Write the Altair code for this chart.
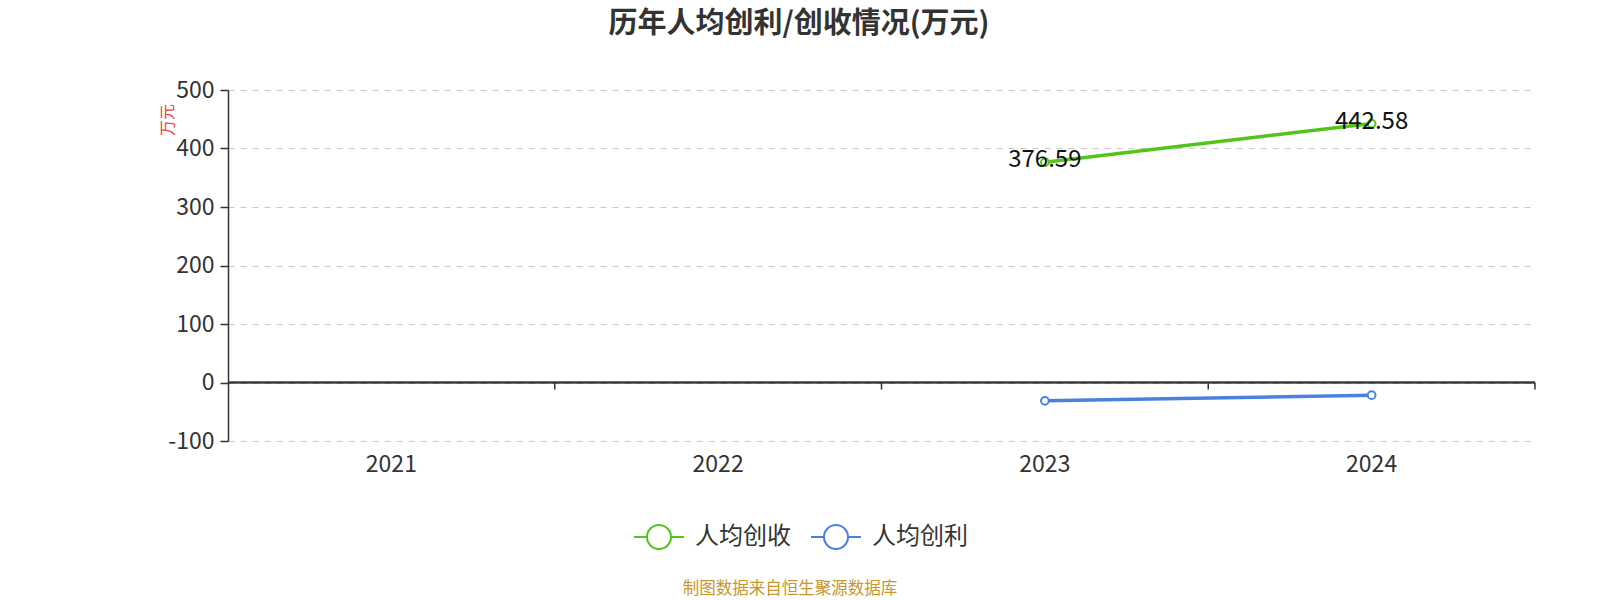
import altair as alt
import pandas as pd

years = ["2021", "2022", "2023", "2024"]
revenue_per_head = [None, None, 376.59, 442.58]   # 人均创收
profit_per_head = [None, None, -31.4, -21.6]      # 人均创利

series_names = ["人均创收", "人均创利"]
series_colors = ["#52c41a", "#4a80e0"]

FONT = "Noto Sans CJK SC"
W, H = 1307, 351

rows = []
for name, vals in zip(series_names, [revenue_per_head, profit_per_head]):
    for yr, v in zip(years, vals):
        if v is not None:
            rows.append({"year": yr, "value": v, "series": name})
df = pd.DataFrame(rows)
rev_df = df[df.series == "人均创收"]
years_df = pd.DataFrame({"year": years})

x_scale = alt.Scale(domain=years, paddingInner=0, paddingOuter=0)
y_scale = alt.Scale(domain=[-100, 500], nice=False, zero=False)
color_scale = alt.Scale(domain=series_names, range=series_colors)

legend_symbol = "M-1,0H-0.48A0.48,0.48 0 1,1 0.48,0A0.48,0.48 0 1,1 -0.48,0M0.48,0H1"

x_enc = alt.X("year:N", scale=x_scale, sort=years,
              axis=alt.Axis(title=None, domain=False, ticks=False, labelAngle=0,
                            labelFontSize=23, labelColor="#333", labelFont=FONT,
                            labelPadding=12, grid=False))
y_enc = alt.Y("value:Q", scale=y_scale,
              axis=alt.Axis(title=None, values=[-100, 0, 100, 200, 300, 400, 500],
                            labelExpr="datum.value < 0 ? '-' + abs(datum.value) : datum.label",
                            domainColor="#333", domainWidth=1.5, tickColor="#333",
                            tickSize=8, tickWidth=1.5, labelFontSize=23,
                            labelColor="#333", labelFont=FONT, labelPadding=6,
                            grid=True, gridDash=[6, 6], gridColor="#c8c8c8"))

lines = alt.Chart(df).mark_line(strokeWidth=3.5).encode(
    x=x_enc,
    y=y_enc,
    color=alt.Color("series:N", scale=color_scale, sort=series_names,
                    legend=alt.Legend(title=None, orient="none", direction="horizontal",
                                      legendX=405, legendY=421,
                                      symbolType=legend_symbol, symbolSize=2500,
                                      symbolStrokeWidth=2, symbolFillColor="white",
                                      labelFontSize=24, labelColor="#333", labelFont=FONT,
                                      labelOffset=10, columnPadding=16)),
)

points = alt.Chart(df).mark_point(shape="circle", filled=True, fill="white",
                                  size=60, strokeWidth=2, opacity=1).encode(
    x=alt.X("year:N", scale=x_scale, sort=years),
    y=alt.Y("value:Q", scale=y_scale),
    stroke=alt.Stroke("series:N", scale=color_scale, legend=None),
)

labels = alt.Chart(rev_df).mark_text(fontSize=24, font=FONT, color="#111",
                                     align="center", baseline="middle", dy=-2).encode(
    x=alt.X("year:N", scale=x_scale, sort=years),
    y=alt.Y("value:Q", scale=y_scale),
    text=alt.Text("value:Q", format=".2f"),
)

# horizontal axis line at zero with tick marks on category boundaries
zero_line = alt.Chart(years_df).mark_rule(color="#333", strokeWidth=1.5).encode(
    x=alt.value(0), x2=alt.value(W), y=alt.Y("z:Q", scale=y_scale),
).transform_calculate(z="0")

zero_ticks = alt.Chart(years_df).mark_rule(color="#333", strokeWidth=1.5, y2Offset=7).encode(
    x=alt.X("year:N", scale=x_scale, sort=years, bandPosition=1),
    y=alt.Y("z:Q", scale=y_scale),
    y2="z:Q",
).transform_calculate(z="0")

title = alt.Chart(years_df.head(1)).mark_text(
    text="历年人均创利/创收情况(万元)", fontSize=29, fontWeight="bold", font=FONT,
    color="#333", align="center", baseline="middle",
).encode(x=alt.value(571), y=alt.value(-66))

y_title = alt.Chart(years_df.head(1)).mark_text(
    text="万元", fontSize=16, font=FONT, color="#f03c3c", angle=270,
    align="center", baseline="middle",
).encode(x=alt.value(-60), y=alt.value(30))

footer = alt.Chart(years_df.head(1)).mark_text(
    text="制图数据来自恒生聚源数据库", fontSize=16.5, font=FONT, color="#c8952e",
    align="center", baseline="middle",
).encode(x=alt.value(562), y=alt.value(499))

chart = alt.layer(
    lines, zero_line, zero_ticks, points, labels, title, y_title, footer
).properties(
    width=W, height=H,
    autosize=alt.AutoSizeParams(type="none"),
    padding={"left": 228, "top": 90, "right": 65, "bottom": 159},
    background="white",
).configure_view(stroke=None)

chart.save("out.html", embed_options={"renderer": "svg", "actions": False})
